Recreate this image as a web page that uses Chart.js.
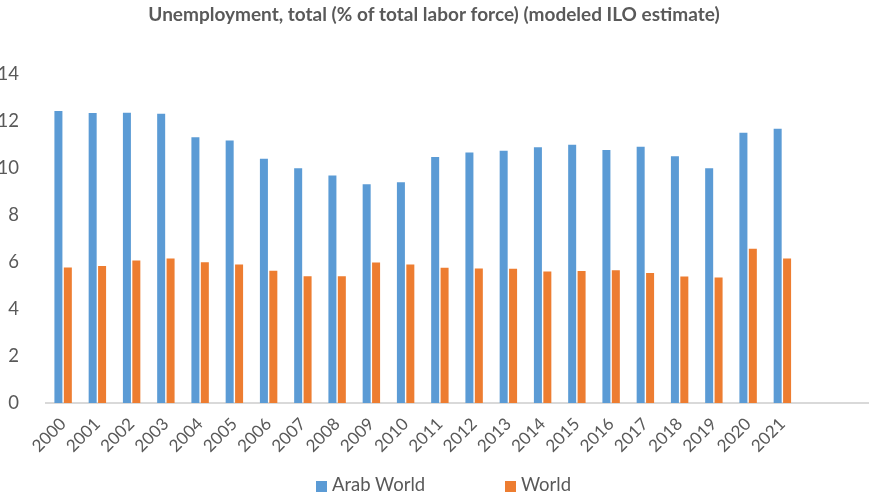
<!DOCTYPE html>
<html>
<head>
<meta charset="utf-8">
<script src="https://cdn.jsdelivr.net/npm/chart.js@4.4.1/dist/chart.umd.min.js"></script>
<style>
  html, body { margin: 0; padding: 0; background: #fff; }
  #wrap { position: relative; width: 870px; height: 498px; }
  #legend { position: absolute; left: 316px; top: 473px; font: 18.5px Lato, sans-serif; color: #595959; }
  #legend span.item { position: absolute; white-space: nowrap; top: 0; }
  #legend i { display: inline-block; width: 11px; height: 11px; margin-right: 5px; vertical-align: -1px; }
</style>
</head>
<body>
<div id="wrap">
  <canvas id="chart" width="870" height="498"></canvas>
  <div id="legend"></div>
</div>
<script>
"use strict";

const years = ["2000", "2001", "2002", "2003", "2004", "2005", "2006", "2007", "2008", "2009", "2010",
               "2011", "2012", "2013", "2014", "2015", "2016", "2017", "2018", "2019", "2020", "2021"];
const emptySlots = ["", ""];

const arabWorld = [12.42, 12.33, 12.34, 12.30, 11.30, 11.16, 10.39, 9.98, 9.68, 9.30, 9.39,
                   10.46, 10.65, 10.73, 10.88, 10.98, 10.76, 10.90, 10.49, 9.98, 11.49, 11.66];
const world     = [5.76, 5.83, 6.06, 6.15, 5.99, 5.89, 5.62, 5.39, 5.39, 5.98, 5.89,
                   5.75, 5.72, 5.71, 5.59, 5.61, 5.65, 5.53, 5.38, 5.34, 6.56, 6.15];

const yTicks = [0, 2, 4, 6, 8, 10, 12, 14];

const seriesNames  = ["Arab World", "World"];
const seriesColors = ["#5B9BD5", "#ED7D31"];

const textGrey = "#595959";

const ctx = document.getElementById("chart").getContext("2d");

new Chart(ctx, {
    type: "bar",
    data: {
        labels:   years.concat(emptySlots),
        datasets: [
            {
                label:           seriesNames[0],
                data:            arabWorld,
                backgroundColor: seriesColors[0]
            },
            {
                label:           seriesNames[1],
                data:            world,
                backgroundColor: seriesColors[1]
            }
        ]
    },
    options: {
        responsive:         false,
        animation:          false,
        categoryPercentage: 0.55,
        barPercentage:      0.85,
        layout: {
            padding: { left: 0, right: 2, top: 0, bottom: 37 }
        },
        scales: {
            x: {
                grid:   { display: false },
                border: { display: true, color: "#D9D9D9", width: 2 },
                ticks:  {
                    autoSkip:    false,
                    maxRotation: 45,
                    minRotation: 45,
                    color:       textGrey,
                    font:        { family: "Lato", size: 17 }
                },
                afterFit: scale => { scale.height = 58; }
            },
            y: {
                min:    0,
                max:    14,
                grid:   { display: false },
                border: { display: false },
                afterBuildTicks: scale => { scale.ticks = yTicks.map(v => ({ value: v })); },
                ticks:  {
                    padding: 19,
                    color:   textGrey,
                    font:    { family: "Lato", size: 18.5 }
                },
                afterFit: scale => { scale.width = 46; }
            }
        },
        plugins: {
            legend:  { display: false },
            tooltip: { enabled: false },
            title:   {
                display: true,
                text:    "Unemployment, total (% of total labor force) (modeled ILO estimate)",
                color:   textGrey,
                font:    { family: "Lato", size: 19, weight: "bold" },
                padding: { top: 3, bottom: 48 }
            }
        }
    }
});

// legend drawn as html, spaced like the reference
const legend = document.getElementById("legend");
const legendLeft = [0, 189];
seriesNames.forEach((name, i) => {
    const item = document.createElement("span");
    item.className = "item";
    item.style.left = legendLeft[i] + "px";
    item.innerHTML = '<i style="background:' + seriesColors[i] + '"></i>' + name;
    legend.appendChild(item);
});
</script>
</body>
</html>
